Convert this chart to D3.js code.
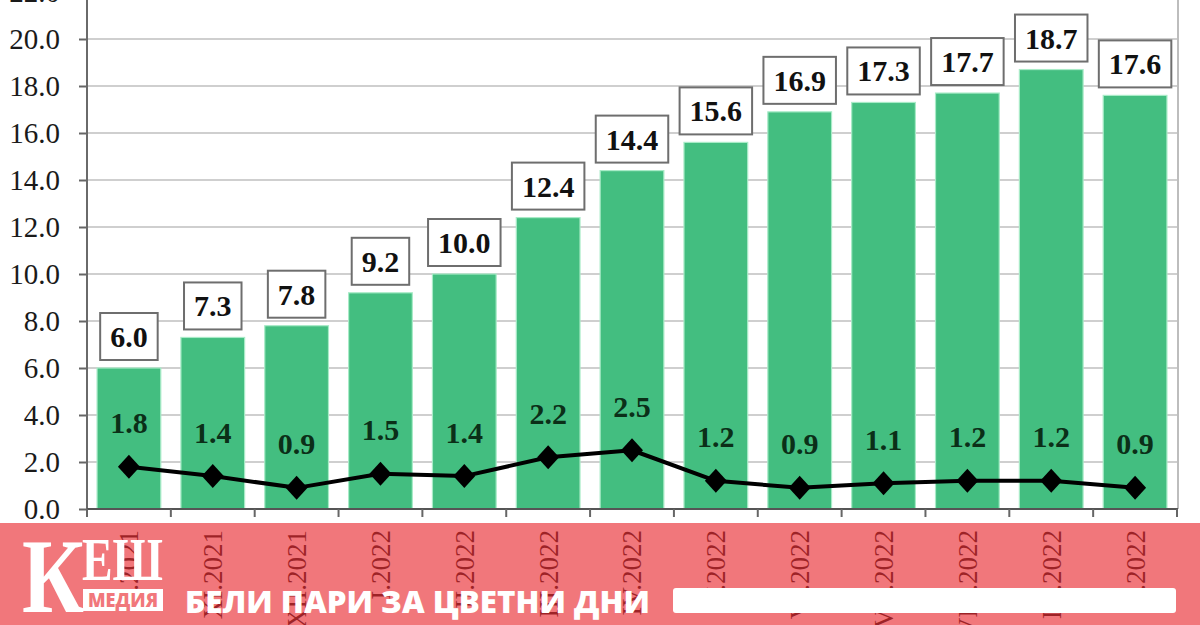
<!DOCTYPE html>
<html>
<head>
<meta charset="utf-8">
<script src="https://cdn.jsdelivr.net/npm/d3@7"></script>
<style>
  html, body { margin: 0; padding: 0; background: #fff; }
  svg { display: block; }
</style>
</head>
<body>
<svg id="chart" width="1200" height="625"></svg>
<script>
// ---- data ----
const categories = ["X.2021","XI.2021","XII.2021","I.2022","II.2022","III.2022","IV.2022","V.2022","VI.2022","VII.2022","VIII.2022","IX.2022","X.2022"];
const annualValues = [6.0, 7.3, 7.8, 9.2, 10.0, 12.4, 14.4, 15.6, 16.9, 17.3, 17.7, 18.7, 17.6];
const monthlyValues = [1.8, 1.4, 0.9, 1.5, 1.4, 2.2, 2.5, 1.2, 0.9, 1.1, 1.2, 1.2, 0.9];
const yTicks = [0, 2, 4, 6, 8, 10, 12, 14, 16, 18, 20, 22];
const bannerSlogan = "БЕЛИ ПАРИ ЗА ЦВЕТНИ ДНИ";

// ---- layout ----
const svg = d3.select("#chart");
const left = 87, right = 1177, bottom = 509;

const x = d3.scaleBand().domain(categories).range([left, right]).paddingInner(0.24).paddingOuter(0.12);
const y = d3.scaleLinear().domain([0, 22]).range([bottom, -8]);
const step = x.step();
const cx = d => x(d) + x.bandwidth() / 2;
const fmt = d3.format(".1f");

// gridlines
svg.append("g").selectAll("line").data(yTicks.filter(t => t > 0)).join("line")
  .attr("x1", left).attr("x2", right).attr("y1", d => y(d)).attr("y2", d => y(d))
  .attr("stroke", "#cfcfcf").attr("stroke-width", 2);

// right border
svg.append("line").attr("x1", right + 1).attr("x2", right + 1).attr("y1", 0).attr("y2", bottom)
  .attr("stroke", "#bdbdbd").attr("stroke-width", 2);

// bars
svg.append("g").selectAll("rect").data(annualValues).join("rect")
  .attr("x", (d, i) => x(categories[i]))
  .attr("width", x.bandwidth())
  .attr("y", d => y(d))
  .attr("height", d => y(0) - y(d))
  .attr("fill", "#43be80")
  .attr("stroke", "#a8ebc7").attr("stroke-width", 1.2);

// y axis
const yAxis = d3.axisLeft(y).tickValues(yTicks).tickFormat(fmt).tickSize(8).tickPadding(19);
const ga = svg.append("g").attr("transform", `translate(${left},0)`).call(yAxis);
ga.select(".domain").remove();
ga.selectAll(".tick line").attr("stroke", "#666").attr("stroke-width", 2);
ga.selectAll(".tick text").attr("font-family", "'Liberation Serif', 'Times New Roman', serif")
  .attr("font-size", 29).attr("fill", "#1a1a1a");
svg.append("line").attr("x1", left).attr("x2", left).attr("y1", 0).attr("y2", bottom + 1)
  .attr("stroke", "#6a6a6a").attr("stroke-width", 2);

// x axis
svg.append("line").attr("x1", left).attr("x2", right + 1).attr("y1", bottom).attr("y2", bottom)
  .attr("stroke", "#555").attr("stroke-width", 2);
const boundaries = categories.map(c => x(c) - x.paddingInner() * step / 2).concat([right]);
svg.append("g").selectAll("line").data(boundaries).join("line")
  .attr("x1", d => d).attr("x2", d => d).attr("y1", bottom).attr("y2", bottom + 8)
  .attr("stroke", "#666").attr("stroke-width", 2);

// x labels (rotated)
svg.append("g").selectAll("text").data(categories).join("text")
  .attr("transform", d => `translate(${cx(d)},${530}) rotate(-90)`)
  .attr("text-anchor", "end").attr("dy", "0.35em")
  .attr("font-family", "'Liberation Serif', 'Times New Roman', serif")
  .attr("font-size", 27).attr("fill", "#111")
  .text(d => d);

// value boxes on bars
const vb = svg.append("g").selectAll("g").data(annualValues).join("g");
vb.each(function(d, i) {
  const g = d3.select(this);
  const t = g.append("text")
    .attr("x", cx(categories[i])).attr("y", y(d) - 8 - 23.5)
    .attr("dy", "0.35em").attr("text-anchor", "middle")
    .attr("font-family", "'Liberation Serif', 'Times New Roman', serif")
    .attr("font-weight", "bold").attr("font-size", 30).attr("fill", "#111")
    .text(fmt(d));
  const w = t.node().getComputedTextLength() + 20;
  g.insert("rect", "text")
    .attr("x", cx(categories[i]) - w / 2).attr("y", y(d) - 8 - 47)
    .attr("width", w).attr("height", 47)
    .attr("fill", "#fff").attr("stroke", "#6e6e6e").attr("stroke-width", 2);
});

// monthly line
const line = d3.line().x((d, i) => cx(categories[i])).y(d => y(d));
svg.append("path").datum(monthlyValues).attr("d", line)
  .attr("fill", "none").attr("stroke", "#000").attr("stroke-width", 4).attr("stroke-linejoin", "round");
svg.append("g").selectAll("path").data(monthlyValues).join("path")
  .attr("transform", (d, i) => `translate(${cx(categories[i])},${y(d)})`)
  .attr("d", "M0,-12L11,0L0,12L-11,0Z").attr("fill", "#000");
svg.append("g").selectAll("text").data(monthlyValues).join("text")
  .attr("x", (d, i) => cx(categories[i])).attr("y", d => y(d) - 44)
  .attr("dy", "0.35em").attr("text-anchor", "middle")
  .attr("font-family", "'Liberation Serif', 'Times New Roman', serif")
  .attr("font-weight", "bold").attr("font-size", 30).attr("fill", "#0b2f18")
  .text(d => fmt(d));

// ---- banner ----
const bannerFill = "#f1777b";
svg.append("rect").attr("x", 0).attr("y", 523).attr("width", 1200).attr("height", 102)
  .attr("fill", "rgb(234,46,52)").attr("fill-opacity", 0.65);

// logo
svg.append("text").attr("x", 22).attr("y", 612)
  .attr("font-family", "'Liberation Serif', 'DejaVu Serif', serif").attr("font-weight", "bold")
  .attr("font-size", 106).attr("fill", "#fff")
  .attr("textLength", 62).attr("lengthAdjust", "spacingAndGlyphs")
  .text("К");
svg.append("text").attr("x", 82).attr("y", 580)
  .attr("font-family", "'Liberation Serif', 'DejaVu Serif', serif").attr("font-weight", "bold")
  .attr("font-size", 62).attr("fill", "#fff")
  .attr("textLength", 81).attr("lengthAdjust", "spacingAndGlyphs")
  .text("ЕШ");
svg.append("rect").attr("x", 83).attr("y", 589).attr("width", 80).attr("height", 22).attr("fill", "#fff");
svg.append("text").attr("x", 123).attr("y", 607).attr("text-anchor", "middle")
  .attr("font-family", "'Open Sans', 'Noto Sans', sans-serif").attr("font-weight", 800)
  .attr("font-size", 19).attr("fill", bannerFill)
  .attr("textLength", 70).attr("lengthAdjust", "spacingAndGlyphs")
  .text("МЕДИЯ");

// slogan
svg.append("text").attr("x", 185).attr("y", 613)
  .attr("font-family", "'Open Sans', 'Noto Sans', Roboto, sans-serif").attr("font-weight", 800)
  .attr("font-size", 30).attr("fill", "#fff")
  .attr("textLength", 465).attr("lengthAdjust", "spacingAndGlyphs")
  .text(bannerSlogan);

// white bar
svg.append("rect").attr("x", 673).attr("y", 588).attr("width", 503).attr("height", 25)
  .attr("rx", 3).attr("fill", "#fff");
</script>
</body>
</html>
